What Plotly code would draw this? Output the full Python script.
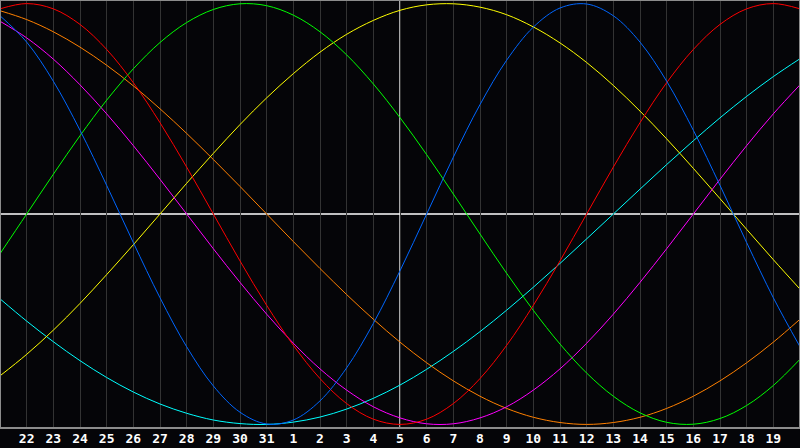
import plotly.graph_objects as go

# day slots across the chart (0 = left edge, 30 = right edge)
day_slot = list(range(31))
tick_slot = list(range(1, 30))
tick_days = ['22', '23', '24', '25', '26', '27', '28', '29', '30', '31',
             '1', '2', '3', '4', '5', '6', '7', '8', '9', '10',
             '11', '12', '13', '14', '15', '16', '17', '18', '19']

# biorhythm readings, one per day slot
physical = [0.942, 0.817, 0.631, 0.398, 0.136, -0.136, -0.398, -0.631, -0.817, -0.942,
            -0.998, -0.979, -0.888, -0.731, -0.520, -0.270, 0.0, 0.270, 0.520, 0.731,
            0.888, 0.979, 0.998, 0.942, 0.817, 0.631, 0.398, 0.136, -0.136, -0.398, -0.631]
emotional = [0.975, 1.0, 0.975, 0.901, 0.782, 0.624, 0.434, 0.223, 0.0, -0.223,
             -0.434, -0.624, -0.782, -0.901, -0.975, -1.0, -0.975, -0.901, -0.782, -0.624,
             -0.434, -0.223, 0.0, 0.223, 0.434, 0.624, 0.782, 0.901, 0.975, 1.0, 0.975]
intellectual = [-0.189, 0.0, 0.189, 0.372, 0.541, 0.690, 0.815, 0.910, 0.972, 0.999,
                0.990, 0.945, 0.866, 0.756, 0.618, 0.458, 0.282, 0.095, -0.095, -0.282,
                -0.458, -0.618, -0.756, -0.866, -0.945, -0.990, -0.999, -0.972, -0.910, -0.815, -0.690]
intuitive = [0.916, 0.837, 0.736, 0.614, 0.476, 0.325, 0.165, 0.0, -0.165, -0.325,
             -0.476, -0.614, -0.736, -0.837, -0.916, -0.969, -0.997, -0.997, -0.969, -0.916,
             -0.837, -0.736, -0.614, -0.476, -0.325, -0.165, 0.0, 0.165, 0.325, 0.476, 0.614]
aesthetic = [-0.769, -0.667, -0.552, -0.425, -0.288, -0.146, 0.0, 0.146, 0.288, 0.425,
             0.552, 0.667, 0.769, 0.854, 0.920, 0.968, 0.994, 0.999, 0.983, 0.947,
             0.889, 0.813, 0.720, 0.611, 0.489, 0.357, 0.217, 0.073, -0.073, -0.217, -0.357]
awareness = [0.966, 0.924, 0.866, 0.793, 0.707, 0.609, 0.5, 0.383, 0.259, 0.131,
             0.0, -0.131, -0.259, -0.383, -0.5, -0.609, -0.707, -0.793, -0.866, -0.924,
             -0.966, -0.991, -1.0, -0.991, -0.966, -0.924, -0.866, -0.793, -0.707, -0.609, -0.5]
spiritual = [-0.403, -0.509, -0.607, -0.697, -0.777, -0.846, -0.903, -0.947, -0.979, -0.996,
             -1.0, -0.989, -0.965, -0.927, -0.876, -0.813, -0.738, -0.653, -0.559, -0.457,
             -0.348, -0.235, -0.118, 0.0, 0.118, 0.235, 0.348, 0.457, 0.559, 0.653, 0.738]

series = [
    ('Spiritual', spiritual, '#00ffff'),
    ('Awareness', awareness, '#ff8000'),
    ('Aesthetic', aesthetic, '#ffff00'),
    ('Intuitive', intuitive, '#ff00ff'),
    ('Intellectual', intellectual, '#00ff00'),
    ('Emotional', emotional, '#ff0000'),
    ('Physical', physical, '#0066ff'),
]

fig = go.Figure()
for name, vals, color in series:
    fig.add_trace(go.Scatter(x=day_slot, y=vals, name=name, mode='lines',
                             line=dict(color=color, width=1, shape='spline')))

# centre cross (today / zero line)
fig.add_shape(type='line', xref='x', yref='paper', x0=15, x1=15, y0=0, y1=1,
              line=dict(color='white', width=1.3), layer='below')
fig.add_shape(type='line', xref='paper', yref='y', x0=0, x1=1, y0=0, y1=0,
              line=dict(color='white', width=1.3), layer='below')
# frame
fig.add_shape(type='rect', xref='paper', yref='paper', x0=0, x1=1, y0=0, y1=1,
              line=dict(color='#8c8c8c', width=2), layer='above')

fig.update_layout(
    width=800, height=448,
    margin=dict(l=0, r=0, t=0, b=20),
    paper_bgcolor='#050508',
    plot_bgcolor='#050508',
    showlegend=False,
    xaxis=dict(range=[0, 30], tickvals=tick_slot, ticktext=tick_days,
               showgrid=True, gridcolor='#333333', gridwidth=1,
               zeroline=False, ticks='', fixedrange=True, ticklabelstandoff=1,
               tickfont=dict(family='DejaVu Sans Mono', size=13, color='white', weight='bold')),
    yaxis=dict(range=[-1.017, 1.017], showgrid=False, zeroline=False,
               showticklabels=False, ticks='', fixedrange=True),
)

fig.write_html('out.html', config={'displayModeBar': False},
               post_script="document.body.style.margin='0';document.body.style.overflow='hidden';")
